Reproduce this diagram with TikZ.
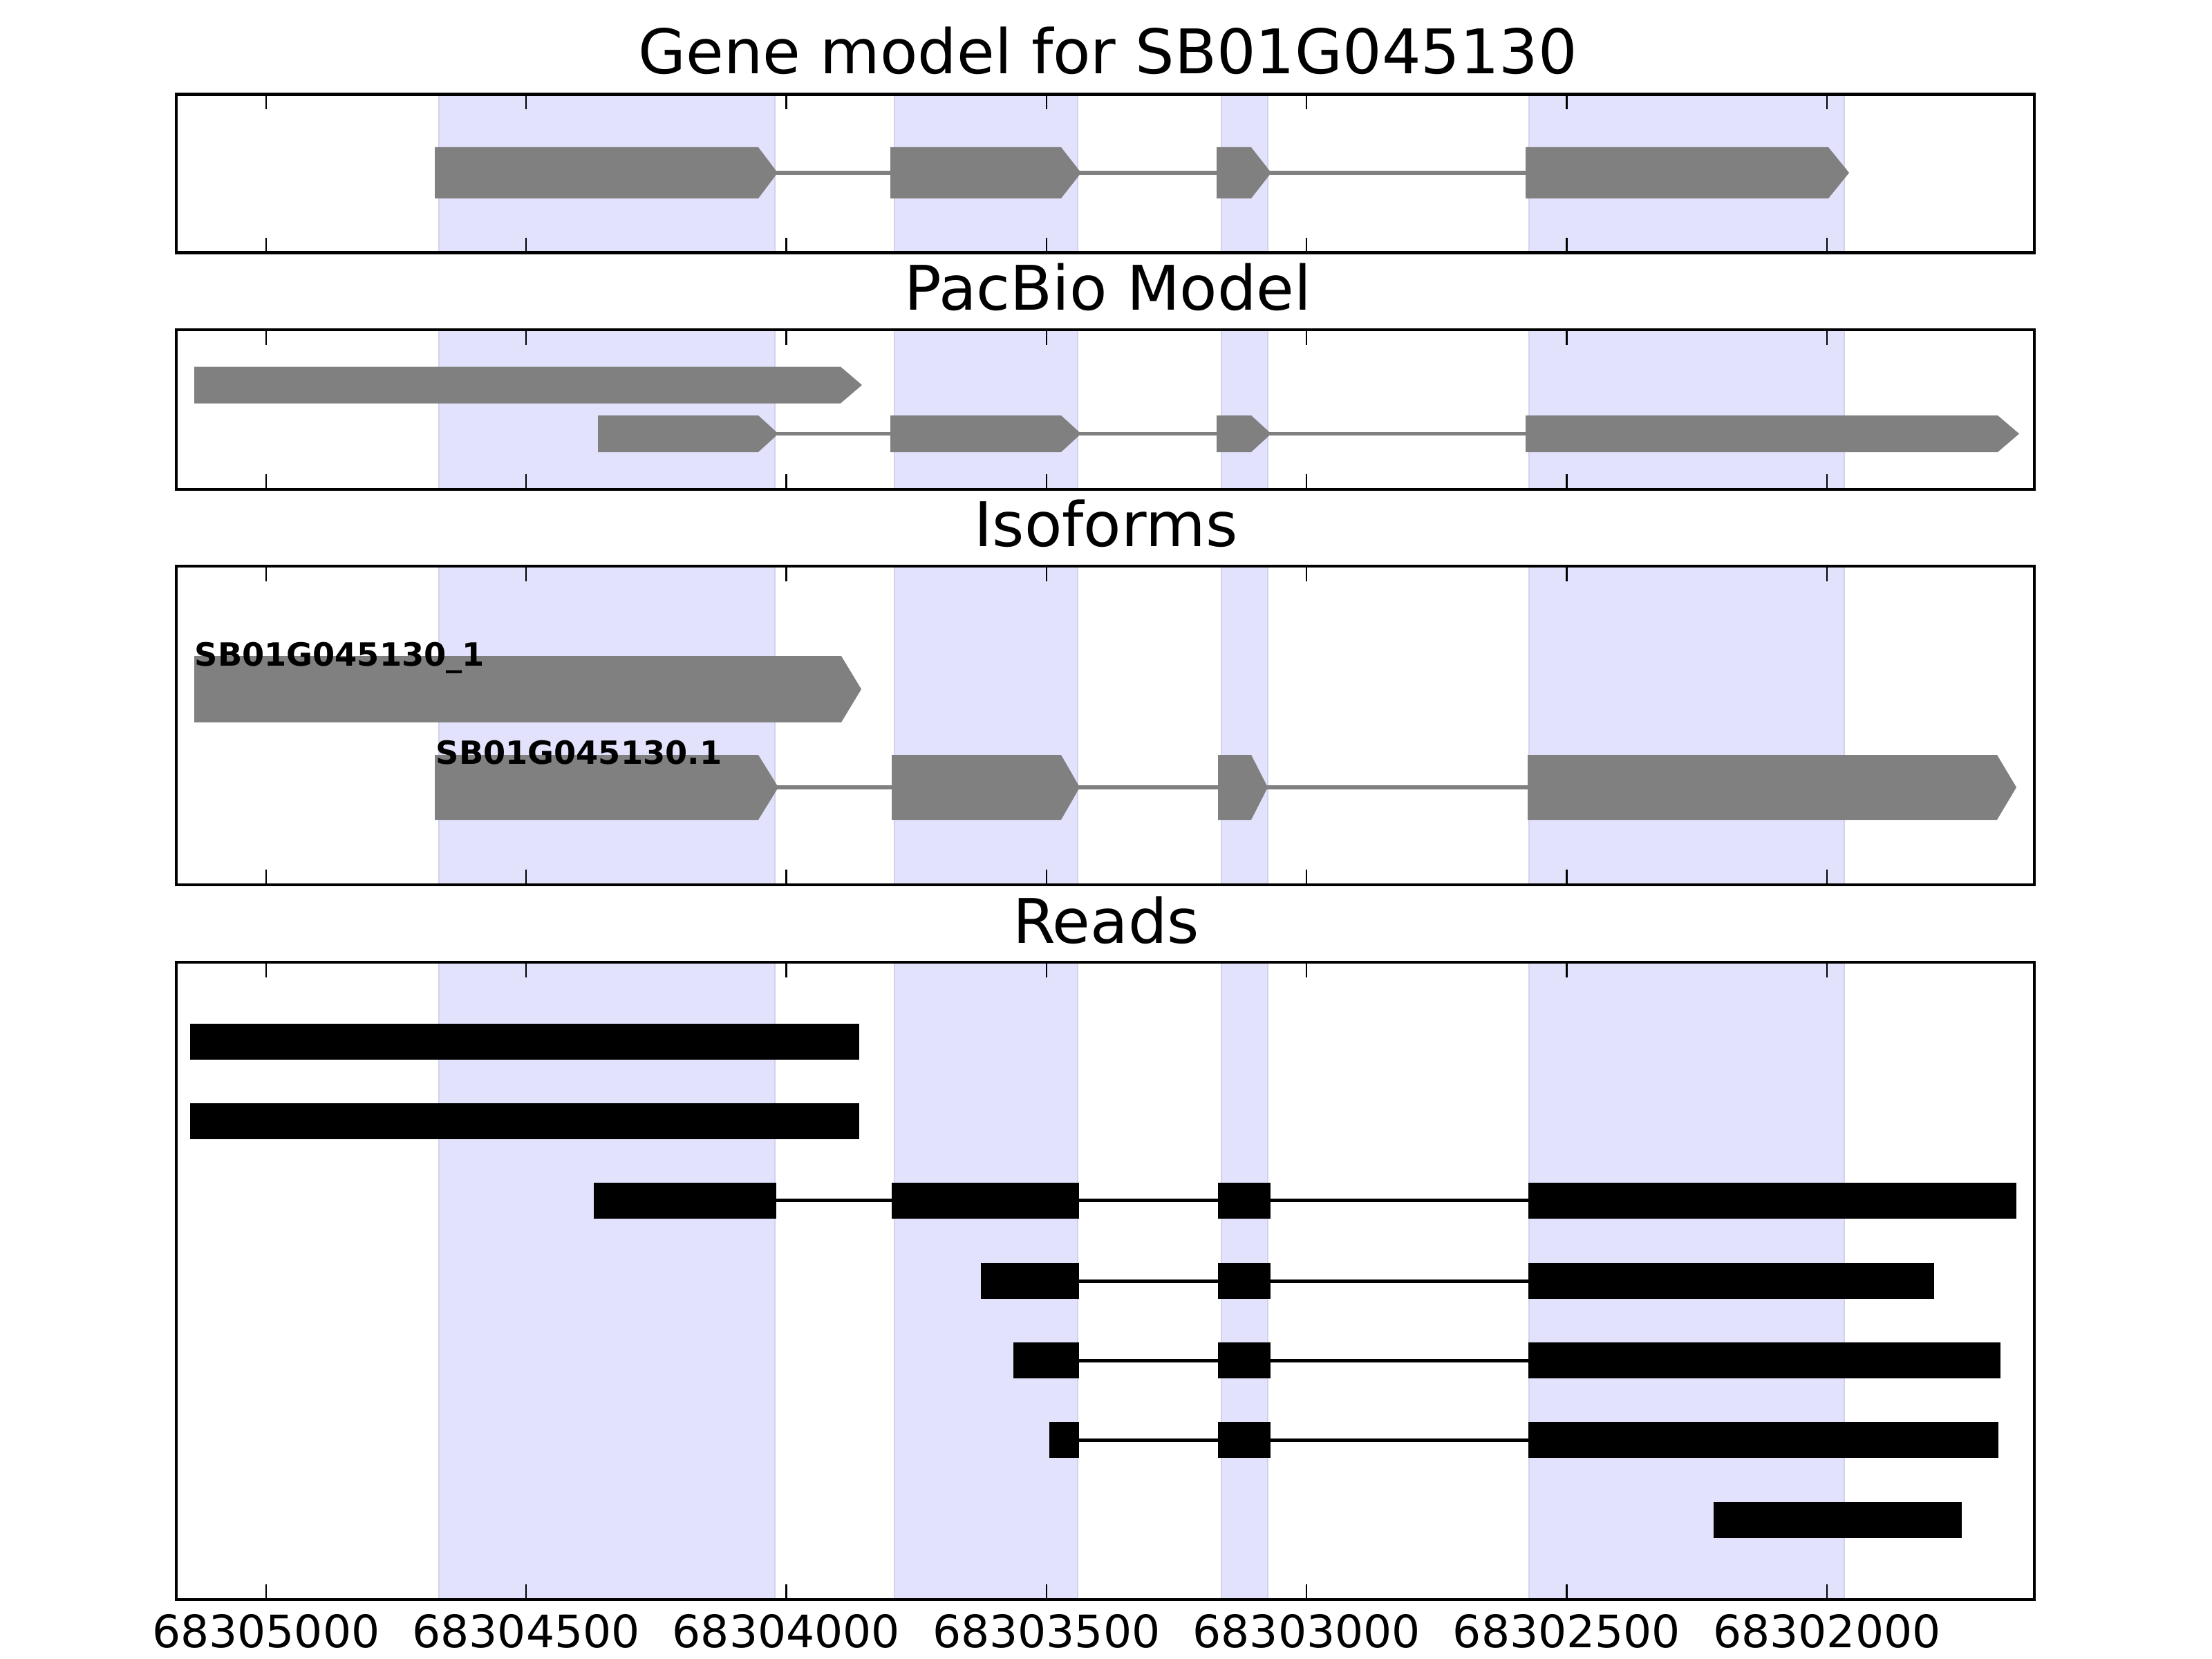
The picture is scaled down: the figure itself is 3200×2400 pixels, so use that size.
\documentclass[tikz,border=0pt]{standalone}
\usepackage{fontspec}
\setmainfont{DejaVu Sans}
\definecolor{spanfill}{RGB}{226,226,252}
\definecolor{spanedge}{RGB}{210,210,236}
\definecolor{exongray}{RGB}{128,128,128}
\newcommand\drawspans[2]{\foreach \sa/\sb in {635/1121,1294/1559,1767/1834,2212/2668}{\path[spanbox] (\sa,#1) rectangle (\sb,#2);}}
\newcommand\drawframe[2]{\foreach \tx in {384.8,761.15,1137.5,1513.85,1890.2,2266.55,2642.9}{\draw[tickmark] (\tx,#1) -- ++(0,22); \draw[tickmark] (\tx,#2) -- ++(0,-22);}\draw[panelframe] (255,#1) rectangle (2943,#2);}
\newcommand\gex[5]{\fill[exongray] (#1,{#4-#5}) -- (#2,{#4-#5}) -- (#3,#4) -- (#2,{#4+#5}) -- (#1,{#4+#5}) -- cycle;}
\newcommand\rex[3]{\fill[black] (#1,{#3-26}) rectangle (#2,{#3+26});}
\begin{document}
\begin{tikzpicture}[x=0.01cm,y=-0.01cm,
  paneltitle/.style={font=\fontsize{25.3}{30}\selectfont, anchor=base, inner sep=0pt},
  ticklabel/.style={font=\fontsize{18.4}{22}\selectfont, anchor=base, inner sep=0pt},
  isolabel/.style={font=\fontsize{13.15}{15}\selectfont\bfseries, anchor=base west, inner sep=0pt},
  panelframe/.style={draw=black, line width=1.14pt},
  tickmark/.style={draw=black, line width=0.7pt},
  spanbox/.style={fill=spanfill, draw=spanedge, line width=0.6pt},
  grayintron/.style={draw=exongray, line width=1.5pt},
  readintron/.style={draw=black, line width=1.42pt}]
\fill[white] (0,0) rectangle (3200,2400);
\useasboundingbox (0,0) rectangle (3200,2400);

% titles
\node[paneltitle] (t1) at (1603,107) {Gene model for SB01G045130};
\node[paneltitle] (t2) at (1603,448) {PacBio Model};
\node[paneltitle] (t3) at (1600,790) {Isoforms};
\node[paneltitle] (t4) at (1600,1364) {Reads};

% ---------- panel 1: gene model ----------
\drawspans{136.5}{365.5}
\draw[grayintron] (1100,250) -- (2210,250);
\gex{629}{1097}{1125}{250}{37}
\gex{1288}{1535}{1564}{250}{37}
\gex{1760}{1810}{1839}{250}{37}
\gex{2207}{2645}{2675}{250}{37}
\drawframe{136.5}{365.5}

% ---------- panel 2: PacBio model ----------
\drawspans{477}{707.5}
\gex{281}{1216}{1247}{557}{26.5}
\draw[grayintron] (1100,627.5) -- (2210,627.5);
\gex{865}{1097}{1126}{627.5}{26.5}
\gex{1288}{1535}{1564}{627.5}{26.5}
\gex{1760}{1810}{1839}{627.5}{26.5}
\gex{2207}{2890}{2921}{627.5}{26.5}
\drawframe{477}{707.5}

% ---------- panel 3: isoforms ----------
\drawspans{819}{1279.5}
\gex{281}{1217}{1246}{997}{48}
\draw[grayintron] (1100,1139) -- (2212,1139);
\gex{629}{1097}{1126}{1139}{47}
\gex{1290}{1535}{1562}{1139}{47}
\gex{1762}{1810}{1834}{1139}{47}
\gex{2210}{2889}{2917}{1139}{47}
\node[isolabel] (iso1) at (281,963) {SB01G045130\_1};
\node[isolabel] (iso2) at (630,1105) {SB01G045130.1};
\drawframe{819}{1279.5}

% ---------- panel 4: reads ----------
\drawspans{1391.5}{2313.5}
\rex{275}{1243}{1507}
\rex{275}{1243}{1621.5}
% read 3
\draw[readintron] (1123,1736.5) -- (2211,1736.5);
\rex{859}{1123}{1736.5}
\rex{1290}{1561}{1736.5}
\rex{1762}{1838}{1736.5}
\rex{2211}{2917}{1736.5}
% read 4
\draw[readintron] (1561,1853) -- (2211,1853);
\rex{1419}{1561}{1853}
\rex{1762}{1838}{1853}
\rex{2211}{2798}{1853}
% read 5
\draw[readintron] (1561,1968) -- (2211,1968);
\rex{1466}{1561}{1968}
\rex{1762}{1838}{1968}
\rex{2211}{2894}{1968}
% read 6
\draw[readintron] (1561,2083) -- (2211,2083);
\rex{1518}{1561}{2083}
\rex{1762}{1838}{2083}
\rex{2211}{2891}{2083}
% read 7
\rex{2479}{2838}{2199}
\drawframe{1391.5}{2313.5}

% tick labels
\node[ticklabel] (l1) at (384.8,2383) {68305000};
\node[ticklabel] (l2) at (761.15,2383) {68304500};
\node[ticklabel] (l3) at (1137.5,2383) {68304000};
\node[ticklabel] (l4) at (1513.85,2383) {68303500};
\node[ticklabel] (l5) at (1890.2,2383) {68303000};
\node[ticklabel] (l6) at (2266.55,2383) {68302500};
\node[ticklabel] (l7) at (2642.9,2383) {68302000};
\end{tikzpicture}
\end{document}
